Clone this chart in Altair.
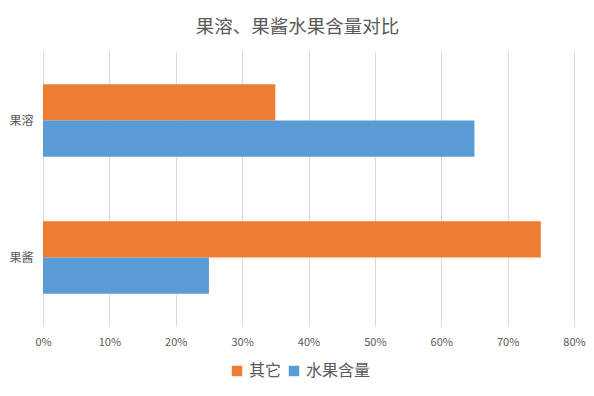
import altair as alt
import pandas as pd

categories = ["果溶", "果酱"]
series = ["其它", "水果含量"]
other_vals = [0.35, 0.75]
fruit_vals = [0.65, 0.25]
colors = ["#ED7D31", "#5B9BD5"]

rows = []
for c, o, f in zip(categories, other_vals, fruit_vals):
    rows.append({"cat": c, "series": series[0], "value": o})
    rows.append({"cat": c, "series": series[1], "value": f})
df = pd.DataFrame(rows)

font = "Noto Sans CJK SC"

chart = alt.Chart(df).mark_bar().encode(
    x=alt.X("value:Q", scale=alt.Scale(domain=[0, 0.8], nice=False),
            axis=alt.Axis(format=".0%", values=[i / 10 for i in range(9)], title=None,
                          domain=False, ticks=False, grid=True, gridColor="#d9d9d9",
                          labelFlush=False, labelOverlap=False,
                          labelColor="#595959", labelFontSize=11, labelPadding=10, labelFont=font)),
    y=alt.Y("cat:N", sort=categories,
            scale=alt.Scale(paddingInner=0.47, paddingOuter=0.235),
            axis=alt.Axis(title=None, domain=False, ticks=False, labelColor="#595959",
                          labelFontSize=12, labelPadding=10, labelFont=font)),
    yOffset=alt.YOffset("series:N", sort=series, scale=alt.Scale(paddingInner=0, paddingOuter=0)),
    color=alt.Color("series:N", sort=series,
                    scale=alt.Scale(domain=series, range=colors),
                    legend=alt.Legend(title=None, orient="none", legendX=186, legendY=311,
                                      direction="horizontal",
                                      symbolType="square", symbolSize=110, symbolStrokeWidth=0,
                                      labelFontSize=16, labelColor="#595959", labelFont=font,
                                      columnPadding=4, labelOffset=4)),
).properties(
    width=531, height=274,
    title=alt.TitleParams("果溶、果酱水果含量对比", fontSize=18.5, font=font, color="#595959",
                          fontWeight="normal", offset=16, dx=-11),
    autosize=alt.AutoSizeParams(type="none"),
    padding={"left": 35, "top": 44, "right": 12, "bottom": 62},
).configure_view(stroke=None)

chart.save("out.html", embed_options={"renderer": "svg", "actions": False})
